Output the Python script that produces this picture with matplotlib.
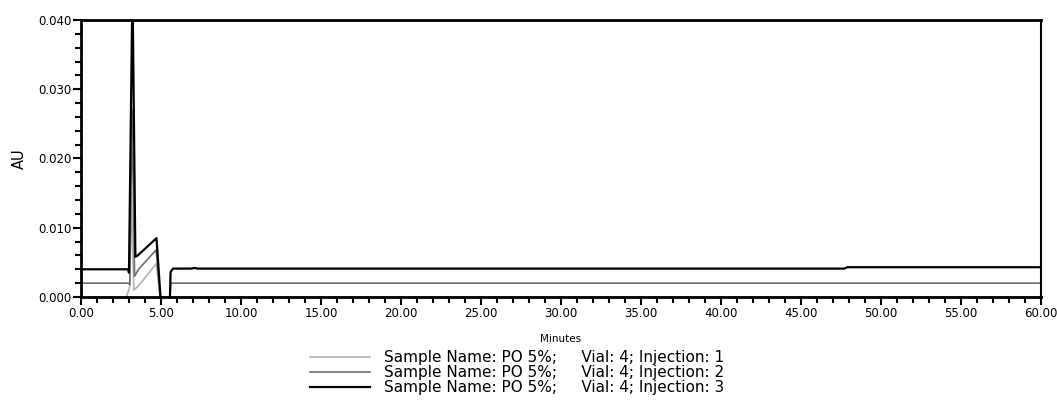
import matplotlib.pyplot as plt
from matplotlib.ticker import MultipleLocator, FormatStrFormatter

plt.rcParams["font.family"] = ["DejaVu Sans"]

# Chromatogram traces (time in minutes, absorbance in AU)
inj1_t = [0.0, 2.85, 3.05, 3.15, 3.30, 3.55, 3.80, 4.70, 4.95, 5.60, 60.0]
inj1_au = [0.0, 0.0, 0.0015, 0.0150, 0.0010, 0.0015, 0.0022, 0.0048, 0.0, 0.0, 0.0]

inj2_t = [0.0, 2.95, 3.05, 3.20, 3.35, 3.60, 4.70, 4.95, 5.55, 5.62, 60.0]
inj2_au = [0.0020, 0.0020, 0.0018, 0.0270, 0.0030, 0.0040, 0.0068, 0.0, 0.0, 0.0020, 0.0020]

inj3_t = [0.0, 2.95, 3.00, 3.22, 3.40, 3.55, 4.72, 5.00, 5.55, 5.60, 5.75,
          6.90, 7.10, 7.30, 47.70, 47.90, 60.0]
inj3_au = [0.0040, 0.0040, 0.0035, 0.0450, 0.0058, 0.0060, 0.0085, -0.0010, -0.0010,
           0.0036, 0.0041, 0.0041, 0.0042, 0.0041, 0.0041, 0.0043, 0.0043]

labels = [
    "Sample Name: PO 5%;     Vial: 4; Injection: 1",
    "Sample Name: PO 5%;     Vial: 4; Injection: 2",
    "Sample Name: PO 5%;     Vial: 4; Injection: 3",
]
colors = ["#b4b4b4", "#6e6e6e", "#000000"]

fig = plt.figure(figsize=(10.57, 4.18), dpi=100)
ax = fig.add_axes([0.0766, 0.2895, 0.9083, 0.6627])

ax.plot(inj1_t, inj1_au, color=colors[0], lw=1.2, label=labels[0])
ax.plot(inj2_t, inj2_au, color=colors[1], lw=1.2, label=labels[1])
ax.plot(inj3_t, inj3_au, color=colors[2], lw=1.6, label=labels[2])

ax.set_xlim(0, 60)
ax.set_ylim(0, 0.040)
ax.xaxis.set_major_locator(MultipleLocator(5))
ax.xaxis.set_minor_locator(MultipleLocator(1))
ax.yaxis.set_major_locator(MultipleLocator(0.010))
ax.yaxis.set_minor_locator(MultipleLocator(0.002))
ax.xaxis.set_major_formatter(FormatStrFormatter("%.2f"))
ax.yaxis.set_major_formatter(FormatStrFormatter("%.3f"))
ax.tick_params(which="major", direction="out", length=6, width=1.5,
               labelsize=8.5, pad=1)
ax.tick_params(which="minor", direction="out", length=4, width=1.5)

for side in ["top", "left", "bottom"]:
    ax.spines[side].set_linewidth(2.0)
ax.spines["right"].set_linewidth(1.5)

ax.set_xlabel("Minutes", fontsize=7.5, labelpad=10)
ax.set_ylabel("AU", fontsize=10.5, labelpad=8)

ax.legend(loc="upper left", bbox_to_anchor=(0.2325, -0.17), frameon=False,
          fontsize=11, handlelength=3.9, handletextpad=0.9,
          labelspacing=0.0, borderaxespad=0)

fig.savefig("out.png", dpi=100)
